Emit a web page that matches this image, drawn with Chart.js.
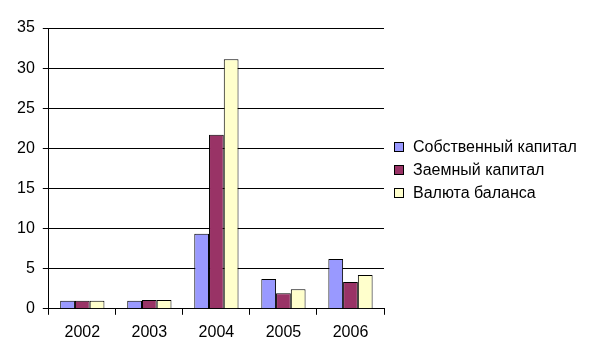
<!DOCTYPE html>
<html>
<head>
<meta charset="utf-8">
<script src="https://cdn.jsdelivr.net/npm/chart.js@4"></script>
<style>
  html, body { margin: 0; padding: 0; background: #fff; }
  #wrap { width: 589px; height: 360px; position: relative; }
  #legend { position: absolute; left: 394px; top: 137px; font: 16px 'Liberation Sans', Arial, sans-serif; color: #000; }
  #legend div { height: 23px; line-height: 20px; white-space: nowrap; }
  #legend span { display: inline-block; width: 8px; height: 8px; border: 1px solid #000; margin-right: 9px; vertical-align: 0px; }
</style>
</head>
<body>
<div id="wrap"><canvas id="chart"></canvas><div id="legend"></div></div>
<script>
// Данные по годам
const years = ['2002', '2003', '2004', '2005', '2006'];
const ownCapital = [1, 1, 9.35, 3.7, 6.2];
const borrowed = [1, 1.1, 21.7, 1.95, 3.35];
const balance = [1, 1.1, 31.1, 2.45, 4.2];
const seriesNames = ['Собственный капитал', 'Заемный капитал', 'Валюта баланса'];
const seriesColors = ['#9999FF', '#993366', '#FFFFCC'];

const font = { family: "'Liberation Sans', Arial, sans-serif", size: 16 };

document.getElementById('legend').innerHTML = seriesNames.map((n, i) =>
  `<div><span style="background:${seriesColors[i]}"></span>${n}</div>`).join('');

new Chart(document.getElementById('chart'), {
  type: 'bar',
  data: {
    labels: years,
    datasets: [ownCapital, borrowed, balance].map((data, i) => ({
      label: seriesNames[i],
      data,
      backgroundColor: seriesColors[i],
      borderColor: '#000',
      borderWidth: 1,
      categoryPercentage: 0.66,
      barPercentage: 1,
    }))
  },
  options: {
    responsive: true,
    maintainAspectRatio: false,
    animation: false,
    layout: { padding: { top: 28, right: 205, bottom: 10, left: 9 } },
    plugins: {
      tooltip: { enabled: false },
      legend: { display: false }
    },
    scales: {
      x: {
        grid: { drawOnChartArea: false, color: '#000', tickLength: 6 },
        border: { color: '#000' },
        ticks: { color: '#000', font, padding: 8 },
      },
      y: {
        min: 0, max: 35,
        grid: { color: '#000', tickLength: 6 },
        border: { color: '#000' },
        ticks: { stepSize: 5, color: '#000', font, padding: 8 },
      }
    }
  }
});
</script>
</body>
</html>
